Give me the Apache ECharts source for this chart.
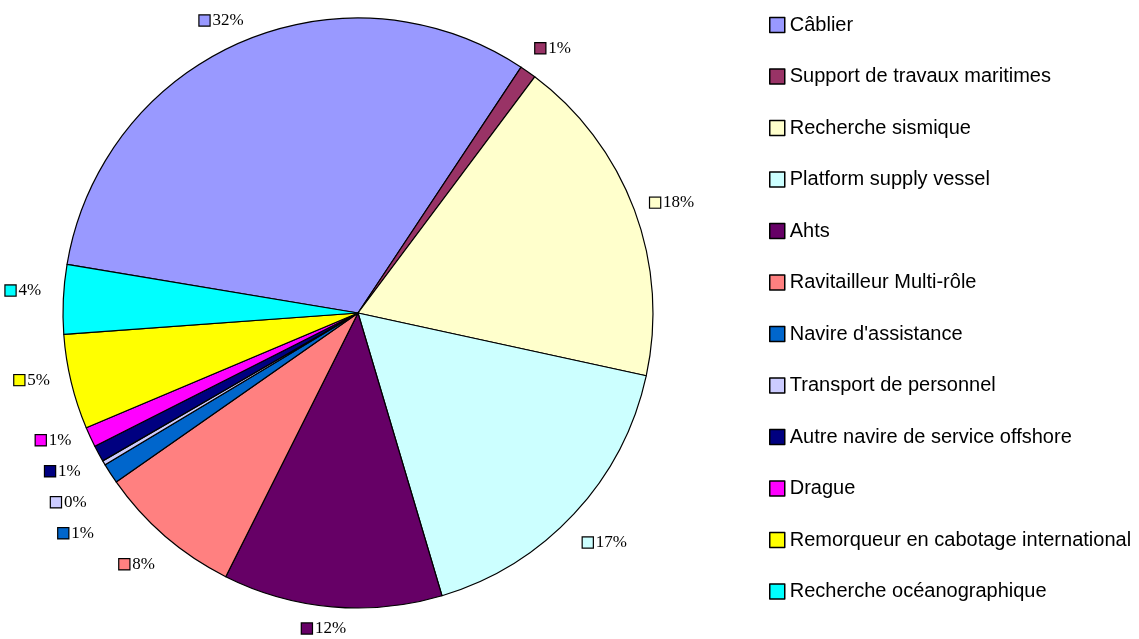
<!DOCTYPE html>
<html>
<head>
<meta charset="utf-8">
<script src="https://cdn.jsdelivr.net/npm/echarts@6/dist/echarts.min.js"></script>
<style>
    html, body { margin: 0; padding: 0; background: #fff; }
    #main { width: 1139px; height: 639px; }
</style>
</head>
<body>
<div id="main"></div>
<script>
// catégories (ordre de la légende)
var categories = [
    'Câblier',
    'Support de travaux maritimes',
    'Recherche sismique',
    'Platform supply vessel',
    'Ahts',
    'Ravitailleur Multi-rôle',
    "Navire d'assistance",
    'Transport de personnel',
    'Autre navire de service offshore',
    'Drague',
    'Remorqueur en cabotage international',
    'Recherche océanographique'
];
// parts en %
var values = [31.7, 0.9, 18.2, 17.0, 12.0, 7.9, 1.1, 0.25, 0.9, 1.1, 5.2, 3.8];
var colors = ['#9999FF', '#993366', '#FFFFCC', '#CCFFFF', '#660066', '#FF8080',
    '#0066CC', '#CCCCFF', '#000080', '#FF00FF', '#FFFF00', '#00FFFF'];

var pieCenterX = 358;

var myChart = echarts.init(document.getElementById('main'));

// petit carré coloré devant chaque pourcentage
var rich = {
    t: {
        fontFamily: 'Liberation Serif, Times New Roman, serif',
        fontSize: 17,
        color: '#000',
        padding: [0, 0, 0, 3]
    }
};
colors.forEach(function (c, i) {
    rich['s' + i] = {
        width: 10,
        height: 10,
        backgroundColor: c,
        borderColor: '#000',
        borderWidth: 1.2
    };
});

var data = categories.map(function (name, i) {
    return {name: name, value: values[i], itemStyle: {color: colors[i]}};
});

var option = {
    animation: false,
    legend: {
        orient: 'vertical',
        left: 764,
        top: 8,
        itemWidth: 15,
        itemHeight: 15,
        itemGap: 27.5,
        icon: 'rect',
        itemStyle: {borderColor: '#000', borderWidth: 1.5},
        textStyle: {
            fontFamily: 'Liberation Sans, Arial, sans-serif',
            fontSize: 20,
            lineHeight: 24,
            color: '#000'
        },
        data: categories
    },
    series: [{
        type: 'pie',
        center: [pieCenterX, 313],
        radius: [0, 295],
        startAngle: 170.5,
        clockwise: true,
        avoidLabelOverlap: false,
        itemStyle: {borderColor: '#000', borderWidth: 1.2},
        emphasis: {disabled: true},
        label: {
            show: true,
            position: 'outside',
            bleedMargin: 0,
            overflow: 'none',
            // fond transparent pour que le padding compte dans l'espacement
            backgroundColor: 'rgba(255,255,255,0)',
            padding: [12, 0, 2, 0],
            formatter: function (p) {
                return '{s' + p.dataIndex + '| }{t|' + Math.round(p.percent) + '%}';
            },
            rich: rich
        },
        labelLine: {show: false, length: 35, length2: 0},
        // étiquettes centrées ; à gauche on décale vers le bas si elles se chevauchent
        labelLayout: function (params) {
            var left = params.labelRect.x + params.labelRect.width / 2 < pieCenterX;
            return left ? {align: 'center', moveOverlap: 'shiftY'} : {align: 'center'};
        },
        data: data
    }]
};
myChart.setOption(option);
window.onresize = myChart.resize;
</script>
</body>
</html>
